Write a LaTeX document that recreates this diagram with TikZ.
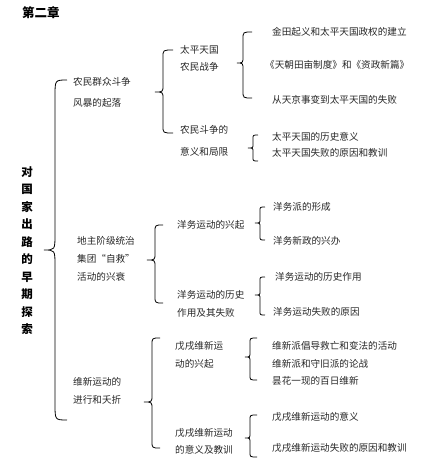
\documentclass[tikz,border=0pt]{standalone}
\usepackage{fontspec}
\newfontfamily\cjk{Noto Sans CJK SC}
\tikzset{
  txt/.style={anchor=west, align=left, inner sep=0pt, text=black!85,
    font=\cjk\fontsize{9.6}{18}\selectfont},
  head/.style={anchor=west, inner sep=0pt, font=\cjk\bfseries\fontsize{12.5}{14}\selectfont},
  vchar/.style={inner sep=0pt, font=\cjk\bfseries\fontsize{11.5}{12}\selectfont},
  bracepath/.style={draw=black, line width=0.8pt}
}
% #1 x of vertical, #2 y top, #3 y tip, #4 y bottom, #5 end width, #6 tip width, #7 radius
\newcommand\cbrace[7]{%
  \draw[bracepath] ({#1+#5},#2) .. controls (#1,#2) .. (#1,{#2+#7})
    -- (#1,{#3-#7}) .. controls (#1,#3) .. ({#1-#6},#3)
    .. controls (#1,#3) .. (#1,{#3+#7})
    -- (#1,{#4-#7}) .. controls (#1,#4) .. ({#1+#5},#4);}
\begin{document}
\begin{tikzpicture}[x=1pt,y=-1pt]
\useasboundingbox (0,0) rectangle (427,466);
\node[head] (ch2) at (22,13) {第二章};
\node[head] (ch3) at (22,473) {第三章};
% vertical title
\foreach \c [count=\i from 0] in {对,国,家,出,路,的,早,期,探,索}
  \node[vchar] (v\i) at (27,{172+17.5*\i}) {\c};
% big brace
\cbrace{55}{80}{250}{420}{12}{11}{16}
% section 1
\node[txt, font=\cjk\fontsize{9.6}{21}\selectfont] (s1) at (73,92.5) {农民群众斗争\\风暴的起落};
\cbrace{163}{50}{92}{133}{10}{8}{7}
\node[txt, font=\cjk\fontsize{9.6}{17}\selectfont] (s11) at (180,58.5) {太平天国\\农民战争};
\node[txt, font=\cjk\fontsize{9.6}{21.5}\selectfont] (s12) at (180,141) {农民斗争的\\意义和局限};
\cbrace{243}{32}{63}{98}{9}{6}{7}
\node[txt] (a1) at (272,32) {金田起义和太平天国政权的建立};
\node[txt] (a2) at (265,65) {《天朝田亩制度》和《资政新篇》};
\node[txt] (a3) at (272,100) {从天京事变到太平天国的失败};
\cbrace{253}{135}{148}{161}{5}{5}{4}
\node[txt] (b1) at (272,137) {太平天国的历史意义};
\node[txt] (b2) at (272,153) {太平天国失败的原因和教训};
% section 2
\node[txt] (s2) at (77,259) {地主阶级统治\\集团“自救”\\活动的兴衰};
\cbrace{155}{225}{260}{303}{8}{8}{7}
\node[txt] (s21) at (177,225) {洋务运动的兴起};
\node[txt] (s22) at (177,304) {洋务运动的历史\\作用及其失败};
\cbrace{260}{207}{223}{240}{5}{5}{4}
\node[txt] (c1) at (273,207) {洋务派的形成};
\node[txt] (c2) at (273,241) {洋务新政的兴办};
\cbrace{260}{277}{295}{315}{5}{5}{4}
\node[txt] (d1) at (275,277) {洋务运动的历史作用};
\node[txt] (d2) at (273,312) {洋务运动失败的原因};
% section 3
\node[txt] (s3) at (73,391) {维新运动的\\进行和夭折};
\cbrace{152}{338}{402}{448}{8}{8}{7}
\node[txt] (s31) at (175,355) {戊戌维新运\\动的兴起};
\node[txt, font=\cjk\fontsize{9.6}{17}\selectfont] (s32) at (175,441.5) {戊戌维新运动\\的意义及教训};
\cbrace{250}{338}{357}{380}{7}{5}{5}
\node[txt] (e1) at (272,346) {维新派倡导救亡和变法的活动};
\node[txt] (e2) at (272,363.5) {维新派和守旧派的论战};
\node[txt] (e3) at (272,381) {昙花一现的百日维新};
\cbrace{250}{415}{438}{457}{7}{5}{5}
\node[txt] (f1) at (272,417) {戊戌维新运动的意义};
\node[txt] (f2) at (272,448) {戊戌维新运动失败的原因和教训};
\end{tikzpicture}
\end{document}
